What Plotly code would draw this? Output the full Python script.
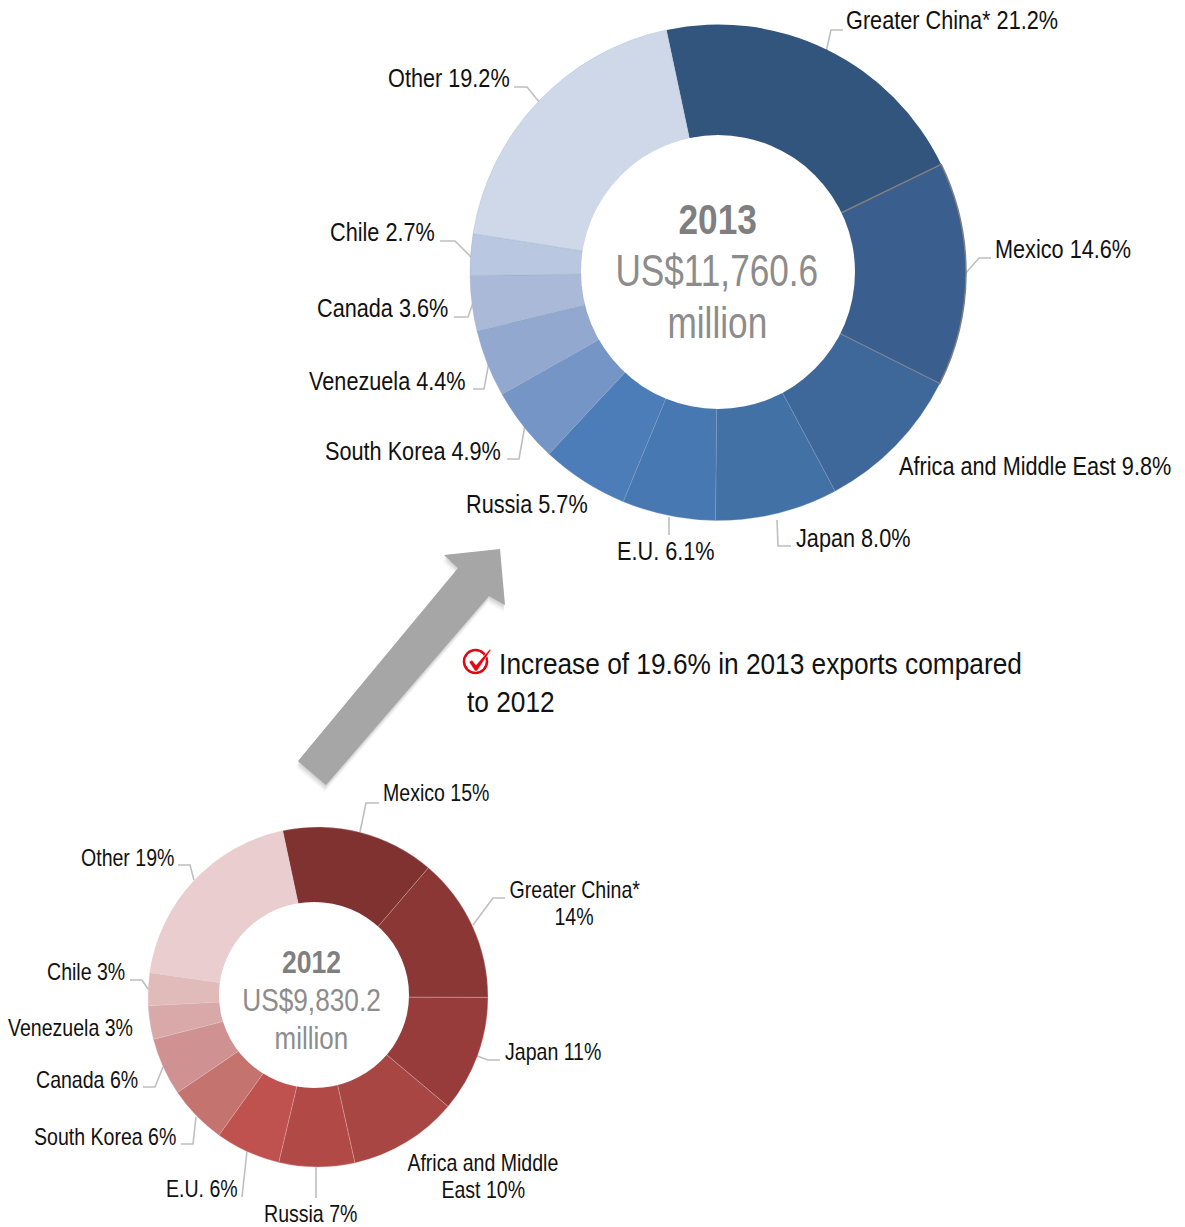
import plotly.graph_objects as go

W, H = 1185, 1227

# ---- data ----
labels_2013 = ["Greater China*", "Mexico", "Africa and Middle East", "Japan", "E.U.", "Russia",
               "South Korea", "Venezuela", "Canada", "Chile", "Other"]
values_2013 = [21.2, 14.6, 9.8, 8.0, 6.1, 5.7, 4.9, 4.4, 3.6, 2.7, 19.2]
value_text_2013 = ["21.2%", "14.6%", "9.8%", "8.0%", "6.1%", "5.7%", "4.9%", "4.4%", "3.6%", "2.7%", "19.2%"]
colors_2013 = ["#31557D", "#3A5F8E", "#3E689A", "#4271A6", "#4878B2", "#4C7DB8",
               "#7495C5", "#93A8CF", "#AAB9D7", "#BAC7E0", "#CFD8E8"]

labels_2012 = ["Mexico", "Greater China*", "Japan", "Africa and Middle East", "Russia", "E.U.",
               "South Korea", "Canada", "Venezuela", "Chile", "Other"]
values_2012 = [14.6, 13.8, 11.1, 10.4, 7.2, 6.2, 5.6, 5.5, 3.2, 3.1, 19.4]
value_text_2012 = ["15%", "14%", "11%", "10%", "7%", "6%", "6%", "6%", "3%", "3%", "19%"]
colors_2012 = ["#803231", "#8A3735", "#983C3B", "#A84644", "#B14A47", "#BF514F",
               "#C4736F", "#CF9191", "#D9A9A9", "#E1BABA", "#E9CDCF"]

FONT = "Liberation Sans, Arial, sans-serif"


def px(x):
    return x / W


def py(y):
    return 1 - y / H


def domain(cx, cy, r):
    return dict(x=[px(cx - r), px(cx + r)], y=[py(cy + r), py(cy - r)])


fig = go.Figure()
fig.add_trace(go.Pie(
    labels=labels_2013, values=values_2013, sort=False, direction="clockwise", rotation=-12,
    hole=0.53, domain=domain(718, 272.5, 248), textinfo="none", showlegend=False,
    marker=dict(colors=colors_2013,
                line=dict(color=["#E8ECF3", "#7F7F7F"] + ["#8FA6C4"] * 9,
                          width=[0, 1.5] + [0.3] * 9)),
))
fig.add_trace(go.Pie(
    labels=labels_2012, values=values_2012, sort=False, direction="clockwise", rotation=-12,
    hole=0.52, domain=domain(318, 997, 170), textinfo="none", showlegend=False,
    marker=dict(colors=colors_2012, line=dict(color="#E8C8C8", width=0.3)),
))

annotations = []
squeeze = []


def text(x, y, s, size=25.5, color="#111111", anchor="left", bold=False, narrow=0.85):
    annotations.append(dict(
        x=px(x - 1), y=py(y), xref="paper", yref="paper", text=f"<b>{s}</b>" if bold else s,
        showarrow=False, xanchor=anchor, yanchor="middle", align="center", borderpad=0,
        font=dict(family=FONT, size=size, color=color)))
    squeeze.append([narrow, anchor])


pos_2013 = [(846, 20), (995, 249), (899, 466), (796, 538), (617, 551), (466, 504),
            (325, 451), (309, 381), (317, 308), (330, 232), (388, 78)]
for lab, val, (x, y) in zip(labels_2013, value_text_2013, pos_2013):
    text(x, y, f"{lab} {val}")

pos_2012 = {"Mexico": (383, 793), "Japan": (505, 1052), "Russia": (264, 1214), "E.U.": (166, 1189),
            "South Korea": (34, 1137), "Canada": (36, 1080), "Venezuela": (8, 1028),
            "Chile": (47, 972), "Other": (81, 858)}
for lab, val in zip(labels_2012, value_text_2012):
    if lab in pos_2012:
        x, y = pos_2012[lab]
        text(x, y, f"{lab} {val}", size=23)
text(575, 890, "Greater China*", size=23, anchor="center")
text(575, 917, value_text_2012[1], size=23, anchor="center")
text(484, 1163, "Africa and Middle", size=23, anchor="center")
text(484, 1190, f"East {value_text_2012[3]}", size=23, anchor="center")

text(718, 220, "2013", size=42, color="#7F7F7F", anchor="center", bold=True, narrow=0.84)
text(718, 271, "US$11,760.6", size=44, color="#8C8C8C", anchor="center", narrow=0.80)
text(718, 323, "million", size=44, color="#8C8C8C", anchor="center", narrow=0.80)
text(312, 962, "2012", size=32, color="#7F7F7F", anchor="center", bold=True, narrow=0.83)
text(312, 1000, "US$9,830.2", size=32, color="#8C8C8C", anchor="center", narrow=0.82)
text(312, 1038, "million", size=32, color="#8C8C8C", anchor="center", narrow=0.81)

text(499, 663, "Increase of 19.6% in 2013 exports compared", size=30, narrow=0.876)
text(467, 701, "to 2012", size=30, narrow=0.876)

shapes = []


def path_of(points, close=False):
    d = "M" + " L".join(f"{px(x):.5f},{py(y):.5f}" for x, y in points)
    return d + (" Z" if close else "")


# white centres of the two rings
shapes.append(dict(type="circle", xref="paper", yref="paper", x0=px(581), x1=px(855), y0=py(409), y1=py(135),
                   fillcolor="white", line=dict(width=0)))
shapes.append(dict(type="circle", xref="paper", yref="paper", x0=px(219), x1=px(409), y0=py(1088), y1=py(902),
                   fillcolor="white", line=dict(width=0)))

leaders = [
    [(826, 52), (831, 30), (843, 30)],
    [(965, 274), (979, 258), (991, 258)],
    [(540, 103), (527, 87), (514, 87)],
    [(471, 257), (455, 241), (440, 241)],
    [(473, 303), (468, 317), (454, 317)],
    [(489, 362), (484, 389), (473, 389)],
    [(525, 425), (519, 459), (507, 459)],
    [(777, 520), (778, 546), (791, 546)],
    [(669, 517), (669, 535)],
    [(360, 832), (366, 803), (379, 803)],
    [(473, 925), (493, 898), (505, 898)],
    [(477, 1056), (488, 1060), (500, 1060)],
    [(194, 880), (190, 865), (178, 865)],
    [(148, 989), (142, 980), (130, 980)],
    [(163, 1067), (155, 1087), (143, 1087)],
    [(196, 1117), (193, 1144), (181, 1144)],
    [(247, 1151), (242, 1197)],
    [(316, 1167), (316, 1198)],
]
for pts in leaders:
    shapes.append(dict(type="path", xref="paper", yref="paper", path=path_of(pts),
                       line=dict(color="#BFBFBF", width=1.6), layer="below"))

arrow = [(298, 761), (458, 568), (444, 555), (500, 549), (505, 605), (489, 596), (326, 785)]
for dx, dy, op in [(1, 1, 0.16), (2, 3, 0.13), (3, 5, 0.10), (4, 7, 0.06)]:
    shapes.append(dict(type="path", xref="paper", yref="paper",
                       path=path_of([(x - dx * 0.3, y + dy) for x, y in arrow], True),
                       fillcolor="#7F7F7F", opacity=op, line=dict(width=0)))
shapes.append(dict(type="path", xref="paper", yref="paper", path=path_of(arrow, True),
                   fillcolor="#A6A6A6", line=dict(width=0)))

# check-mark icon
shapes.append(dict(type="circle", xref="paper", yref="paper",
                   x0=px(464), x1=px(487), y0=py(673), y1=py(650),
                   line=dict(color="#E30613", width=2.5)))
check = [(469, 662), (472, 660), (476, 665), (490, 649), (491, 650), (477, 671), (475, 671)]
shapes.append(dict(type="path", xref="paper", yref="paper", path=path_of(check, True),
                   fillcolor="#E30613", line=dict(color="#FFFFFF", width=0.5)))

fig.update_layout(width=W, height=H, margin=dict(l=0, r=0, t=0, b=0),
                  paper_bgcolor="white", plot_bgcolor="white",
                  annotations=annotations, shapes=shapes)

# The reference's type is a horizontally condensed Arial: condense each real text element in place.
js_pairs = ",".join(f'[{k},"{a}"]' for k, a in squeeze)
post = """
document.body.style.margin='0';
var sq=[%s];
document.querySelectorAll('.annotation').forEach(function(g){
  var i=+g.getAttribute('data-index'); var t=g.querySelector('text.annotation-text'); if(!t) return;
  var b=t.getBBox(); var k=sq[i][0]; var cx=sq[i][1]==='left'?b.x:b.x+b.width/2;
  t.setAttribute('transform','translate('+cx+',0) scale('+k+',1) translate('+(-cx)+',0)');
});
""" % js_pairs
fig.write_html("out.html", post_script=post, config={"displayModeBar": False})
